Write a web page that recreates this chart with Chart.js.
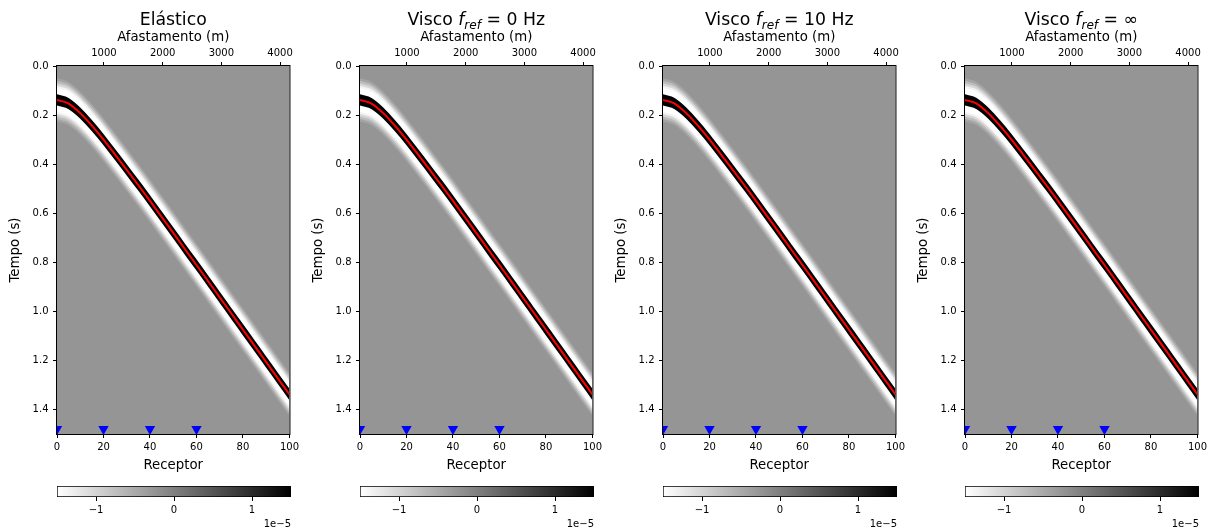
<!DOCTYPE html>
<html>
<head>
<meta charset="utf-8">
<script src="https://cdn.jsdelivr.net/npm/chart.js@4.4.0/dist/chart.umd.min.js"></script>
<style>
  html, body { margin: 0; padding: 0; background: #fff; }
  #fig { position: relative; width: 1210px; height: 530px; overflow: hidden; }
  .panel { position: absolute; top: 0; width: 302px; height: 530px; }
  .panel canvas { position: absolute; left: 0; }
</style>
</head>
<body>
<div id="fig"></div>
<script>
// ---- Data ---------------------------------------------------------------
// Receiver index and picked arrival time (s) of the direct event
const receivers   = [0, 5, 10, 15, 20, 25, 30, 35, 40, 45, 50, 55, 60, 65, 70, 75, 80, 85, 90, 95, 100];
const arrivalTime = [0.138, 0.153, 0.192, 0.243, 0.300, 0.361, 0.423, 0.486, 0.550, 0.615, 0.680,
                     0.746, 0.811, 0.877, 0.943, 1.009, 1.075, 1.141, 1.207, 1.273, 1.339];

// Receivers flagged with markers near the bottom of the gather
const markerReceivers = [0, 20, 40, 60];
const markerTimes     = [1.48, 1.48, 1.48, 1.48];

// Axis extents and tick labels
const receiverRange = [0, 100];
const receiverTicks = [0, 20, 40, 60, 80, 100];
const offsetRange   = [200, 4160];          // offset (m) of receivers 0 and 100
const offsetTicks   = [1000, 2000, 3000, 4000];
const timeRange     = [0, 1.5];
const timeTicks     = [0.0, 0.2, 0.4, 0.6, 0.8, 1.0, 1.2, 1.4];

// Amplitude colour scale, in units of 1e-5
const ampRange = [-1.5, 1.5];
const ampTicks = [-1, 0, 1];

// Panel titles: plain name, or "Visco f_ref = <value>"
const titleName = ['Elástico', 'Visco', 'Visco', 'Visco'];
const titleFref = ['', '0 Hz', '10 Hz', '∞'];

// ---- Styling ------------------------------------------------------------
const FONT = '"DejaVu Sans", "Liberation Sans", sans-serif';
Chart.defaults.font.family = FONT;
Chart.defaults.color = '#000';

const PANEL_LEFT = [0, 303, 606, 908];
const BACKGROUND_GRAY = '#959595';
// Wavelet drawn as nested bands around the arrival: half-width in seconds
const WAVELET_BANDS = [
  { half: 0.023, color: '#000000' },
  { half: 0.048, color: 'rgba(255,255,255,1)' },
  { half: 0.058, color: 'rgba(255,255,255,0.7)' },
  { half: 0.068, color: 'rgba(255,255,255,0.4)' },
  { half: 0.078, color: 'rgba(255,255,255,0.25)' },
  { half: 0.088, color: 'rgba(255,255,255,0.15)' }
];

const toPoints = ys => receivers.map((r, k) => ({ x: r, y: ys[k] }));
const minus = v => (v < 0 ? '\u2212' + Math.abs(v) : String(v));

const tickGrid = { display: true, drawOnChartArea: false, drawTicks: true, tickLength: 4, color: '#000', lineWidth: 1 };

// Gray image background, box frame and the mixed-style title
const gatherPlugin = {
  id: 'gatherPlugin',
  beforeDatasetsDraw(chart, args, opts) {
    const { ctx, chartArea: a } = chart;
    ctx.save();
    ctx.fillStyle = opts.background;
    ctx.fillRect(a.left, a.top, a.right - a.left, a.bottom - a.top);
    ctx.restore();
  },
  afterDatasetsDraw(chart) {
    const { ctx, chartArea: a } = chart;
    ctx.save();
    ctx.strokeStyle = '#000';
    ctx.lineWidth = 1;
    ctx.strokeRect(a.left - 0.5, a.top - 0.5, a.right - a.left + 1, a.bottom - a.top + 1);
    ctx.restore();
  },
  afterDraw(chart, args, opts) {
    const { ctx, chartArea: a } = chart;
    const size = 17.3;
    const parts = opts.parts.map(p => ({
      text: p.text,
      font: `${p.italic ? 'italic ' : ''}${(size * (p.scale || 1)).toFixed(2)}px ${FONT}`,
      dy: p.dy || 0
    }));
    ctx.save();
    ctx.fillStyle = '#000';
    ctx.textBaseline = 'alphabetic';
    ctx.textAlign = 'left';
    let total = 0;
    parts.forEach(p => { ctx.font = p.font; p.w = ctx.measureText(p.text).width; total += p.w; });
    let x = (a.left + a.right) / 2 - total / 2;
    parts.forEach(p => { ctx.font = p.font; ctx.fillText(p.text, x, 25 + p.dy); x += p.w; });
    ctx.restore();
  }
};

function titleParts(i) {
  if (!titleFref[i]) return [{ text: titleName[i] }];
  return [
    { text: titleName[i] + ' ' },
    { text: 'f', italic: true },
    { text: 'ref', italic: true, scale: 0.7, dy: 3.5 },
    { text: ' = ' + titleFref[i] }
  ];
}

function gatherDatasets() {
  const ds = [];
  ds.push({
    data: toPoints(arrivalTime), borderColor: 'red', borderWidth: 2,
    pointRadius: 0, fill: false, order: 0, clip: 0, cubicInterpolationMode: 'monotone'
  });
  ds.push({
    data: markerReceivers.map((r, k) => ({ x: r, y: markerTimes[k] })),
    showLine: false, pointStyle: 'triangle', pointRotation: 180, pointRadius: 6,
    pointBackgroundColor: 'blue', pointBorderColor: 'blue', pointBorderWidth: 0,
    order: 0, clip: 0
  });
  WAVELET_BANDS.forEach((b, k) => {
    const upper = ds.length;
    ds.push({
      data: toPoints(arrivalTime.map(t => t - b.half)),
      borderColor: 'rgba(0,0,0,0)', borderWidth: 0, pointRadius: 0, fill: false,
      order: 10 + k, clip: 0, cubicInterpolationMode: 'monotone'
    });
    ds.push({
      data: toPoints(arrivalTime.map(t => t + b.half)),
      borderColor: 'rgba(0,0,0,0)', borderWidth: 0, pointRadius: 0,
      fill: { target: upper }, backgroundColor: b.color,
      order: 10 + k, clip: 0, cubicInterpolationMode: 'monotone'
    });
  });
  return ds;
}

function makeGather(canvas, i) {
  return new Chart(canvas, {
    type: 'line',
    data: { datasets: gatherDatasets() },
    plugins: [gatherPlugin],
    options: {
      responsive: false, animation: false, devicePixelRatio: 1, events: [],
      layout: { padding: { left: 0, right: 11, top: 0, bottom: 0 } },
      plugins: {
        legend: { display: false }, tooltip: { enabled: false },
        gatherPlugin: { background: BACKGROUND_GRAY, parts: titleParts(i) }
      },
      scales: {
        x: {
          type: 'linear', position: 'bottom', min: receiverRange[0], max: receiverRange[1],
          afterBuildTicks: s => { s.ticks = receiverTicks.map(v => ({ value: v })); },
          afterFit: s => { s.height = 41; },
          ticks: { font: { size: 10 }, padding: 3, maxRotation: 0, callback: v => String(v) },
          grid: tickGrid, border: { display: false },
          title: { display: true, text: 'Receptor', font: { size: 13.3 }, padding: { top: 0, bottom: 1.6 } }
        },
        x2: {
          type: 'linear', position: 'top', min: offsetRange[0], max: offsetRange[1],
          afterBuildTicks: s => { s.ticks = offsetTicks.map(v => ({ value: v })); },
          afterFit: s => { s.height = 66; },
          ticks: { font: { size: 10 }, padding: 3, maxRotation: 0, callback: v => String(v) },
          grid: tickGrid, border: { display: false },
          title: { display: true, text: 'Afastamento (m)', font: { size: 13.3 }, padding: { top: 30, bottom: 0 } }
        },
        y: {
          type: 'linear', position: 'left', reverse: true, min: timeRange[0], max: timeRange[1],
          afterBuildTicks: s => { s.ticks = timeTicks.map(v => ({ value: v })); },
          afterFit: s => { s.width = 57; },
          ticks: { font: { size: 10 }, padding: 4.5, callback: v => Number(v).toFixed(1) },
          grid: tickGrid, border: { display: false },
          title: { display: true, text: 'Tempo (s)', font: { size: 13.3 }, padding: { top: 8, bottom: 0 } }
        }
      }
    }
  });
}

function makeColorbar(canvas) {
  return new Chart(canvas, {
    type: 'bar',
    data: {
      labels: ['amplitude'],
      datasets: [{
        data: [ampRange],
        backgroundColor: c => {
          const ch = c.chart, xs = ch.scales.x;
          if (!ch.chartArea || !xs) return '#888';
          const g = ch.ctx.createLinearGradient(xs.getPixelForValue(ampRange[0]), 0, xs.getPixelForValue(ampRange[1]), 0);
          g.addColorStop(0, '#ffffff');
          g.addColorStop(1, '#000000');
          return g;
        },
        borderColor: '#000', borderWidth: 1, borderSkipped: false,
        barPercentage: 1, categoryPercentage: 1
      }]
    },
    options: {
      indexAxis: 'y',
      responsive: false, animation: false, devicePixelRatio: 1, events: [],
      layout: { padding: { left: 57, right: 11, top: 11, bottom: 0 } },
      plugins: { legend: { display: false }, tooltip: { enabled: false } },
      scales: {
        x: {
          type: 'linear', position: 'bottom', min: ampRange[0], max: ampRange[1],
          afterBuildTicks: s => { s.ticks = ampTicks.map(v => ({ value: v })); },
          afterFit: s => { s.height = 33; },
          ticks: { font: { size: 10 }, padding: 3, maxRotation: 0, callback: v => minus(v) },
          grid: tickGrid, border: { display: false },
          title: { display: true, text: '1e\u22125', align: 'end', font: { size: 10 }, padding: { top: 0, bottom: 0 } }
        },
        y: { display: false }
      }
    }
  });
}

const fig = document.getElementById('fig');
PANEL_LEFT.forEach((left, i) => {
  const div = document.createElement('div');
  div.className = 'panel';
  div.style.left = left + 'px';
  const main = document.createElement('canvas');
  main.width = 302; main.height = 475;
  main.style.cssText = 'top:0px;width:302px;height:475px;';
  const bar = document.createElement('canvas');
  bar.width = 302; bar.height = 55;
  bar.style.cssText = 'top:475px;width:302px;height:55px;';
  div.appendChild(main);
  div.appendChild(bar);
  fig.appendChild(div);
  makeGather(main, i);
  makeColorbar(bar);
});
</script>
</body>
</html>
